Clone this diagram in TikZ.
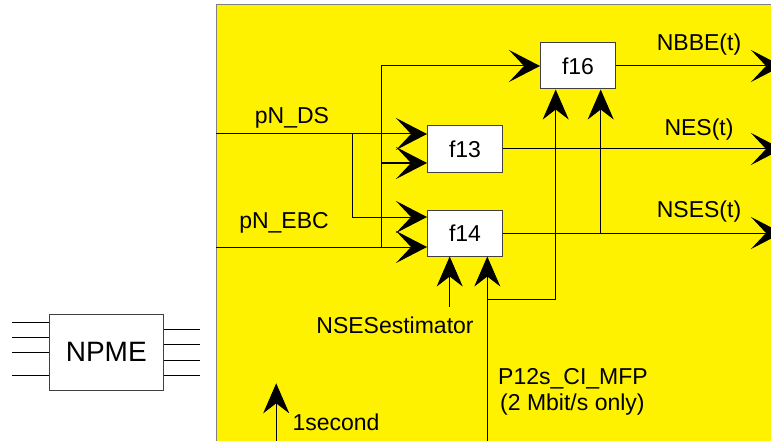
\documentclass[tikz,border=0pt]{standalone}
\usepackage{fontspec}
\setmainfont{Liberation Sans}
\usetikzlibrary{arrows.meta,calc}
\begin{document}
\begin{tikzpicture}[x=1pt,y=-1pt,
  fbox/.style={draw=black!75,fill=white,line width=1pt,minimum width=75pt,minimum height=46pt,inner sep=0pt,font=\fontsize{23}{25}\selectfont},
  lbl/.style={inner sep=0pt,font=\fontsize{23}{25}\selectfont},
  wire/.style={draw=black,line width=1pt},
  harr/.style={wire,-{Stealth[length=31pt,width=32pt,inset=15pt]}},
  varr/.style={wire,-{Stealth[length=30pt,width=26pt,inset=10pt]}}]
\clip (0,0) rectangle (771,441);
\fill[white] (0,0) rectangle (771,441);
% yellow area
\fill[yellow] (216,5) rectangle (775,445);
\draw[gray,line width=1pt] (216,445) -- (216,5) -- (775,5);
% NPME
\node[draw=black!75,fill=white,line width=1pt,minimum width=114pt,minimum height=76pt,inner sep=0pt,font=\fontsize{28}{30}\selectfont] (npme) at (106.3,352) {NPME};
\foreach \yy in {322.7,337.3,352.3,375.7}{\draw[wire] (12.3,\yy) -- (npme.west |- 0,\yy);}
\foreach \yy in {329.7,344.7,360,375}{\draw[wire] (npme.east |- 0,\yy) -- (200,\yy);}
% function boxes
\node[fbox] (f16) at (578,66) {f16};
\node[fbox] (f13) at (465,149) {f13};
\node[fbox] (f14) at (465,233) {f14};
% inputs
\coordinate (DSin) at (216,134);
\coordinate (EBCin) at (216,247);
\coordinate (jA) at (352.3,134);
\coordinate (jB) at (381.7,247);
\coordinate (jC) at (381.7,163);
\draw[harr] (DSin) -- ([yshift=15pt]f13.west);
\draw[harr] (jA) |- ([yshift=16pt]f14.west);
\draw[harr] (EBCin) -- ([yshift=-14pt]f14.west);
\draw[harr] (jB) |- (f16.west);
\draw[harr] (jC) -- ([yshift=-14pt]f13.west);
\node[lbl] (lds) at (292,118) {pN\_DS};
\node[lbl] (lebc) at (284,223) {pN\_EBC};
% outputs
\coordinate (o16) at (782,66);
\coordinate (o13) at (782,149);
\coordinate (o14) at (782,233);
\draw[harr] (f16.east) -- (o16);
\draw[harr] (f13.east) -- (o13);
\draw[harr] (f14.east) -- (o14);
\node[lbl] (lnbbe) at (699,45) {NBBE(t)};
\node[lbl] (lnes) at (699,130) {NES(t)};
\node[lbl] (lnses) at (699,212) {NSES(t)};
% feedback into f16
\coordinate (jN) at (600.7,233);
\draw[varr] (jN) -- (jN |- f16.south);
\coordinate (pbot) at (487.3,441);
\coordinate (pj) at (487.3,299.3);
\draw[varr] (pbot) -- (pbot |- f14.south);
\draw[varr] (pj) -| ([xshift=-22.3pt]f16.south);
% NSESestimator
\coordinate (nse) at (449.7,306.7);
\draw[varr] (nse) -- (nse |- f14.south);
\node[lbl] (lnse) at (395,325) {NSESestimator};
% P12s label
\node[lbl,anchor=west] (lp12) at (498,378.3) {P12s\_CI\_MFP};
\node[lbl,anchor=west] (lp12b) at (500,405) {(2 Mbit/s only)};
% 1second
\coordinate (s1) at (276.2,441);
\coordinate (s1t) at (276.2,383.3);
\draw[varr] (s1) -- (s1t);
\node[lbl,anchor=west] (l1s) at (292.3,422.7) {1second};
\end{tikzpicture}
\end{document}
